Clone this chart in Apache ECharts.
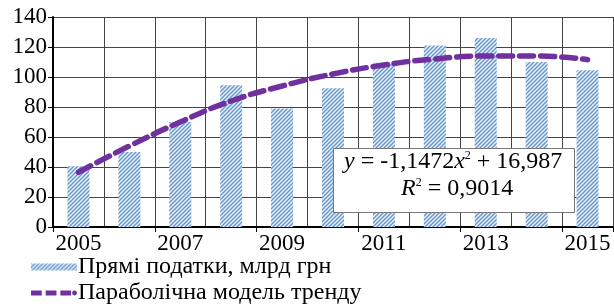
<!DOCTYPE html>
<html>
<head>
<meta charset="utf-8">
<script src="https://cdn.jsdelivr.net/npm/echarts@6/dist/echarts.min.js"></script>
<style>
  html, body { margin: 0; padding: 0; background: #fff; }
  #chart { width: 614px; height: 304px; }
</style>
</head>
<body>
<div id="chart"></div>
<script>
// data
const years = ['2005', '2006', '2007', '2008', '2009', '2010', '2011', '2012', '2013', '2014', '2015'];
const directTaxes = [40.5, 50, 70, 94.5, 79, 92.5, 109.5, 121, 126, 110, 104.5];
const trendValues = [36.5, 54, 70, 84, 94, 102, 108, 112, 114, 114, 111.5];
const yTicks = [0, 20, 40, 60, 80, 100, 120, 140];

const serif = '"Liberation Serif", "Times New Roman", serif';

/* штриховка для стовпчиків */
function hatch() {
    let c = document.createElement('canvas');
    c.width = 4; c.height = 4;
    let ctx = c.getContext('2d');
    ctx.fillStyle = '#e6eef8';
    ctx.fillRect(0, 0, 4, 4);
    ctx.strokeStyle = '#6396cf';
    ctx.lineWidth = 1.3;
    ctx.beginPath();
    ctx.moveTo(-1, 5); ctx.lineTo(5, -1);
    ctx.moveTo(-1, 1); ctx.lineTo(1, -1);
    ctx.moveTo(3, 5); ctx.lineTo(5, 3);
    ctx.stroke();
    return c;
}

// значок легенди: пунктир з крапкою
const dashIcon = 'path://M0,0.5h11v5h-11z M15,0.5h11v5h-11z M30,0.5h11v5h-11z M42,3a2.5,2.5 0 1,0 5,0a2.5,2.5 0 1,0 -5,0z';

let chart = echarts.init(document.getElementById('chart'));
let option = {
    animation: false,
    textStyle: {fontFamily: serif},
    grid: {left: 53, top: 17, right: 1, bottom: 77, containLabel: false, show: false},
    legend: {
        orient: 'vertical',
        left: 31,
        top: 255,
        height: 80,
        padding: 0,
        itemGap: 2,
        itemWidth: 46,
        itemHeight: 7,
        textStyle: {fontFamily: serif, fontSize: 24, lineHeight: 24, color: '#000', padding: [0, 0, 0, -4]},
        data: [
            {name: 'Прямі податки, млрд грн', icon: 'rect'},
            {name: 'Параболічна модель тренду', icon: dashIcon}
        ]
    },
    xAxis: {
        type: 'category',
        data: years,
        boundaryGap: true,
        axisLine: {lineStyle: {color: '#000', width: 2}},
        axisTick: {show: true, length: 5, lineStyle: {color: '#000'}},
        axisLabel: {interval: 1, fontSize: 23, color: '#000', fontFamily: serif, margin: 5},
        splitLine: {show: true, interval: 0, lineStyle: {color: '#444', width: 1}}
    },
    yAxis: {
        type: 'value',
        min: yTicks[0],
        max: yTicks[yTicks.length - 1],
        interval: 20,
        axisLine: {show: true, lineStyle: {color: '#000', width: 2}},
        axisTick: {show: true, length: 5, lineStyle: {color: '#000'}},
        axisLabel: {fontSize: 23, color: '#000', fontFamily: serif, margin: 6},
        splitLine: {lineStyle: {color: '#444', width: 1}}
    },
    series: [
        {
            name: 'Прямі податки, млрд грн',
            type: 'bar',
            data: directTaxes,
            barWidth: 22,
            itemStyle: {color: {image: hatch(), repeat: 'repeat'}}
        },
        {
            name: 'Параболічна модель тренду',
            type: 'line',
            data: trendValues,
            smooth: true,
            symbol: 'none',
            z: 5,
            lineStyle: {color: '#7030a0', width: 5.5, type: [14, 7], cap: 'round'},
            itemStyle: {color: '#7030a0'}
        }
    ],
    graphic: [
        {
            type: 'rect',
            left: 333, top: 148,
            shape: {width: 241, height: 64},
            style: {fill: '#fff', stroke: '#777', lineWidth: 1},
            z: 10
        },
        {
            type: 'text',
            left: 344, top: 150,
            z: 11,
            style: {
                text: '{i|y} = -1,1472{i|x}{s|2} + 16,987',
                font: '24px ' + serif,
                fill: '#000',
                rich: {
                    i: {fontStyle: 'italic', fontSize: 24, fontFamily: serif},
                    s: {fontSize: 12, fontFamily: serif, verticalAlign: 'top', padding: [0, 0, 10, 0]}
                }
            }
        },
        {
            type: 'text',
            left: 401, top: 177,
            z: 11,
            style: {
                text: '{i|R}{s|2} = 0,9014',
                font: '24px ' + serif,
                fill: '#000',
                rich: {
                    i: {fontStyle: 'italic', fontSize: 24, fontFamily: serif},
                    s: {fontSize: 12, fontFamily: serif, verticalAlign: 'top', padding: [0, 0, 10, 0]}
                }
            }
        }
    ]
};
chart.setOption(option);
</script>
</body>
</html>
